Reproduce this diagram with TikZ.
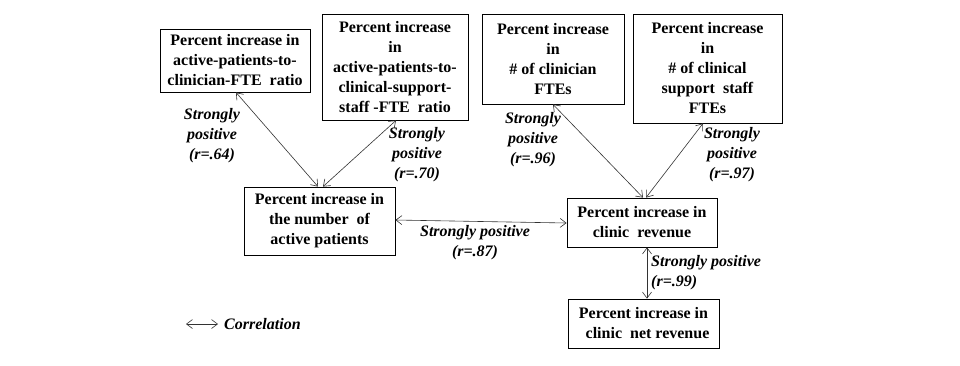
\documentclass[tikz,border=0pt]{standalone}
\usepackage{fontspec}
\setmainfont{Liberation Serif}
\usetikzlibrary{arrows.meta}
\tikzset{
  box/.style={draw, line width=0.8pt, align=center, inner sep=0pt,
    font=\fontsize{16}{20}\selectfont\bfseries},
  lbl/.style={align=center, inner sep=0pt,
    font=\fontsize{16}{20}\selectfont\bfseries\itshape},
  corr/.style={draw=black!80, line width=0.6pt, {Straight Barb[length=6pt,width=9pt]}-{Straight Barb[length=6pt,width=9pt]}}
}
\begin{document}
\begin{tikzpicture}[x=1pt,y=-1pt]
\useasboundingbox[fill=white] (0,0) rectangle (960,365);
\node[box, minimum width=150pt, minimum height=63pt] (A) at (235,60.5)
  {Percent increase in\\active-patients-to-\\clinician-FTE\ \ ratio};
\node[box, minimum width=146pt, minimum height=106pt] (B) at (395,67)
  {Percent increase\\in\\active-patients-to-\\clinical-support-\\staff -FTE\ \ ratio};
\node[box, minimum width=142pt, minimum height=90pt] (C) at (553,59)
  {Percent increase\\in\\\# of clinician\\FTEs};
\node[box, minimum width=149pt, minimum height=109pt] (D) at (707.5,68.5)
  {Percent increase\\in\\\# of clinical\\support\ \ staff\\FTEs};
\node[box, minimum width=151pt, minimum height=68pt] (E) at (319.5,221)
  {Percent increase in\\the number\ \ of\\active patients};
\node[box, minimum width=150pt, minimum height=49pt] (F) at (642,222.5)
  {Percent increase in\\clinic\ \ revenue};
\node[box, minimum width=151pt, minimum height=49pt] (G) at (643.5,323.5)
  {Percent increase in\\\ \ clinic\ \ net revenue};

\draw[corr] ([xshift=1pt]A.south) -- ([xshift=-1.5pt]E.north);
\draw[corr] ([xshift=3.5pt]E.north) -- ([xshift=1pt]B.south);
\draw[corr] (C.south) -- ([xshift=1pt]F.north);
\draw[corr] ([xshift=4pt]F.north) -- ([xshift=-4.5pt]D.south);
\draw[corr] ([yshift=1pt]E.east) -- ([yshift=-0.5pt]F.west);
\draw[corr] ([xshift=5pt]F.south) -- ([xshift=3.5pt]G.north);

\node[lbl] (L1) at (212,136) {Strongly\\positive\\(r=.64)};
\node[lbl] (L2) at (417,155) {Strongly\\positive\\(r=.70)};
\node[lbl] (L3) at (533,140) {Strongly\\positive\\(r=.96)};
\node[lbl] (L4) at (732,155) {Strongly\\positive\\(r=.97)};
\node[lbl] (L5) at (475,243) {Strongly positive\\(r=.87)};
\node[lbl, align=left, anchor=west] (L6) at (651,272.5) {Strongly positive\\(r=.99)};

\coordinate (k1) at (186,324);
\coordinate (k2) at (218,324);
\draw[corr] (k1) -- (k2);
\node[lbl, anchor=west] (K) at (224,324) {Correlation};
\end{tikzpicture}
\end{document}
